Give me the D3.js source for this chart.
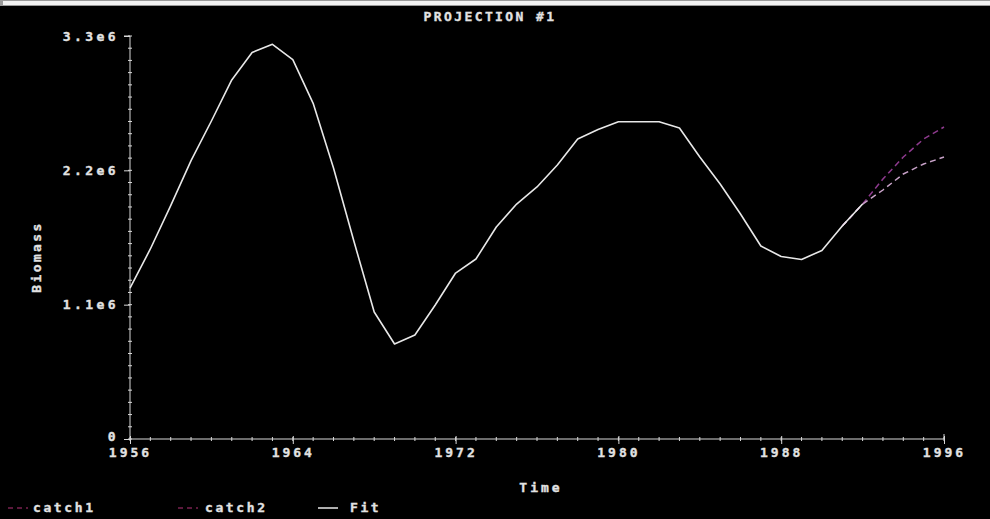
<!DOCTYPE html>
<html>
<head>
<meta charset="utf-8">
<script src="https://cdn.jsdelivr.net/npm/d3@7/dist/d3.min.js"></script>
<style>
  html, body { margin: 0; padding: 0; background: #000; }
  svg { display: block; }
  text { font-family: "DejaVu Sans Mono", monospace; font-weight: bold; fill: #e2e2e2; stroke: #e2e2e2; stroke-width: 0.35px; }
</style>
</head>
<body>
<svg id="chart" width="990" height="519"></svg>
<script>
// ---- data ----
const fitYears = d3.range(1956, 1993);
const fitValues = [
  1.236e6, 1.556e6, 1.911e6, 2.279e6, 2.604e6, 2.940e6, 3.165e6, 3.232e6, 3.106e6, 2.749e6,
  2.219e6, 1.621e6, 1.040e6, 0.778e6, 0.852e6, 1.097e6, 1.359e6, 1.474e6, 1.736e6, 1.924e6,
  2.064e6, 2.244e6, 2.457e6, 2.534e6, 2.598e6, 2.598e6, 2.598e6, 2.547e6, 2.309e6, 2.088e6,
  1.842e6, 1.580e6, 1.494e6, 1.470e6, 1.544e6, 1.744e6, 1.924e6
];
const projYears = [1991, 1992, 1993, 1994, 1995, 1996];
const catch1Values = [1.744e6, 1.924e6, 2.129e6, 2.309e6, 2.457e6, 2.555e6];
const catch2Values = [1.744e6, 1.924e6, 2.039e6, 2.170e6, 2.252e6, 2.309e6];
const xTickValues = [1956, 1964, 1972, 1980, 1988, 1996];
const yTickValues = [0, 1.1e6, 2.2e6, 3.3e6];
const yTickLabels = ["0", "1.1e6", "2.2e6", "3.3e6"];
const seriesNames = ["catch1", "catch2", "Fit"];
const seriesColors = ["#8e3a8e", "#c8a2c8", "#e8e8e8"];

// ---- layout ----
const svg = d3.select("#chart");
const pLeft = 130, pRight = 944, pTop = 36, pBottom = 439;

// top frame band
svg.append("rect").attr("x", 0).attr("y", 0).attr("width", 990).attr("height", 6).attr("fill", "#9a9a9a");
svg.append("rect").attr("x", 3).attr("y", 1).attr("width", 987).attr("height", 4).attr("fill", "#f2f2f2");

const x = d3.scaleLinear().domain([1956, 1996]).range([pLeft, pRight]);
const y = d3.scaleLinear().domain([0, 3.3e6]).range([pBottom, pTop]);

const axisColor = "#d8d8d8";

// minor ticks
const gMinor = svg.append("g").attr("stroke", axisColor).attr("stroke-width", 1);
d3.range(0, 34).forEach(i => {
  const v = i * 1e5;
  gMinor.append("line").attr("x1", pLeft - 2).attr("x2", pLeft + 2).attr("y1", y(v)).attr("y2", y(v));
});
d3.range(1956, 1997).forEach(yr => {
  gMinor.append("line").attr("x1", x(yr)).attr("x2", x(yr)).attr("y1", pBottom - 2).attr("y2", pBottom + 2);
});

// y axis
const yAxis = d3.axisLeft(y).tickValues(yTickValues)
  .tickFormat((d, i) => yTickLabels[i]).tickSize(6).tickPadding(5);
const gy = svg.append("g").attr("transform", `translate(${pLeft},0)`).call(yAxis);
gy.select(".domain").attr("stroke", axisColor).attr("d", `M-6,${pTop}H0V${pBottom}`);
gy.selectAll(".tick line").attr("stroke", axisColor);
gy.selectAll(".tick text").attr("font-size", 13).attr("letter-spacing", "3.4px")
  .attr("font-family", "DejaVu Sans Mono, monospace").attr("font-weight", "bold").attr("fill", "#e2e2e2");
gy.selectAll(".tick text").filter(d => d === 0).attr("dy", "0.1em");

// x axis
const xAxis = d3.axisBottom(x).tickValues(xTickValues).tickFormat(d3.format("d")).tickSize(5).tickPadding(4);
const gx = svg.append("g").attr("transform", `translate(0,${pBottom})`).call(xAxis);
gx.select(".domain").attr("stroke", axisColor).attr("d", `M${pLeft},0H${pRight}V-5`);
gx.selectAll(".tick line").attr("stroke", axisColor).attr("y1", -3);
gx.selectAll(".tick text").attr("font-size", 13).attr("letter-spacing", "3px")
  .attr("font-family", "DejaVu Sans Mono, monospace").attr("font-weight", "bold").attr("fill", "#e2e2e2");

// lines
const line = d3.line().x(d => x(d[0])).y(d => y(d[1]));
svg.append("path").datum(projYears.map((yr, i) => [yr, catch1Values[i]]))
  .attr("d", line).attr("fill", "none").attr("stroke", seriesColors[0])
  .attr("stroke-width", 1.5).attr("stroke-dasharray", "6,4");
svg.append("path").datum(projYears.map((yr, i) => [yr, catch2Values[i]]))
  .attr("d", line).attr("fill", "none").attr("stroke", seriesColors[1])
  .attr("stroke-width", 1.5).attr("stroke-dasharray", "6,4");
svg.append("path").datum(fitYears.map((yr, i) => [yr, fitValues[i]]))
  .attr("d", line).attr("fill", "none").attr("stroke", seriesColors[2])
  .attr("stroke-width", 1.6).attr("stroke-linejoin", "round");

// titles
svg.append("text").attr("x", 490).attr("y", 21).attr("text-anchor", "middle")
  .attr("font-size", 13).attr("letter-spacing", "2.4px").text("PROJECTION #1");
svg.append("text").attr("x", 541).attr("y", 492).attr("text-anchor", "middle")
  .attr("font-size", 13).attr("letter-spacing", "3px").text("Time");
svg.append("text").attr("transform", "translate(41,257) rotate(-90)").attr("text-anchor", "middle")
  .attr("font-size", 13).attr("letter-spacing", "2.4px").text("Biomass");

// legend
const legendX = [8, 178, 318];
const legendTextX = [33, 205, 350];
seriesNames.forEach((name, i) => {
  svg.append("line").attr("x1", legendX[i]).attr("x2", legendX[i] + 20)
    .attr("y1", 508).attr("y2", 508).attr("stroke", i < 2 ? "#7a2250" : seriesColors[2])
    .attr("stroke-width", 1.5).attr("stroke-dasharray", i < 2 ? "5,4" : null);
  svg.append("text").attr("x", legendTextX[i]).attr("y", 512)
    .attr("font-size", 13).attr("letter-spacing", "2.6px").text(name);
});
</script>
</body>
</html>
